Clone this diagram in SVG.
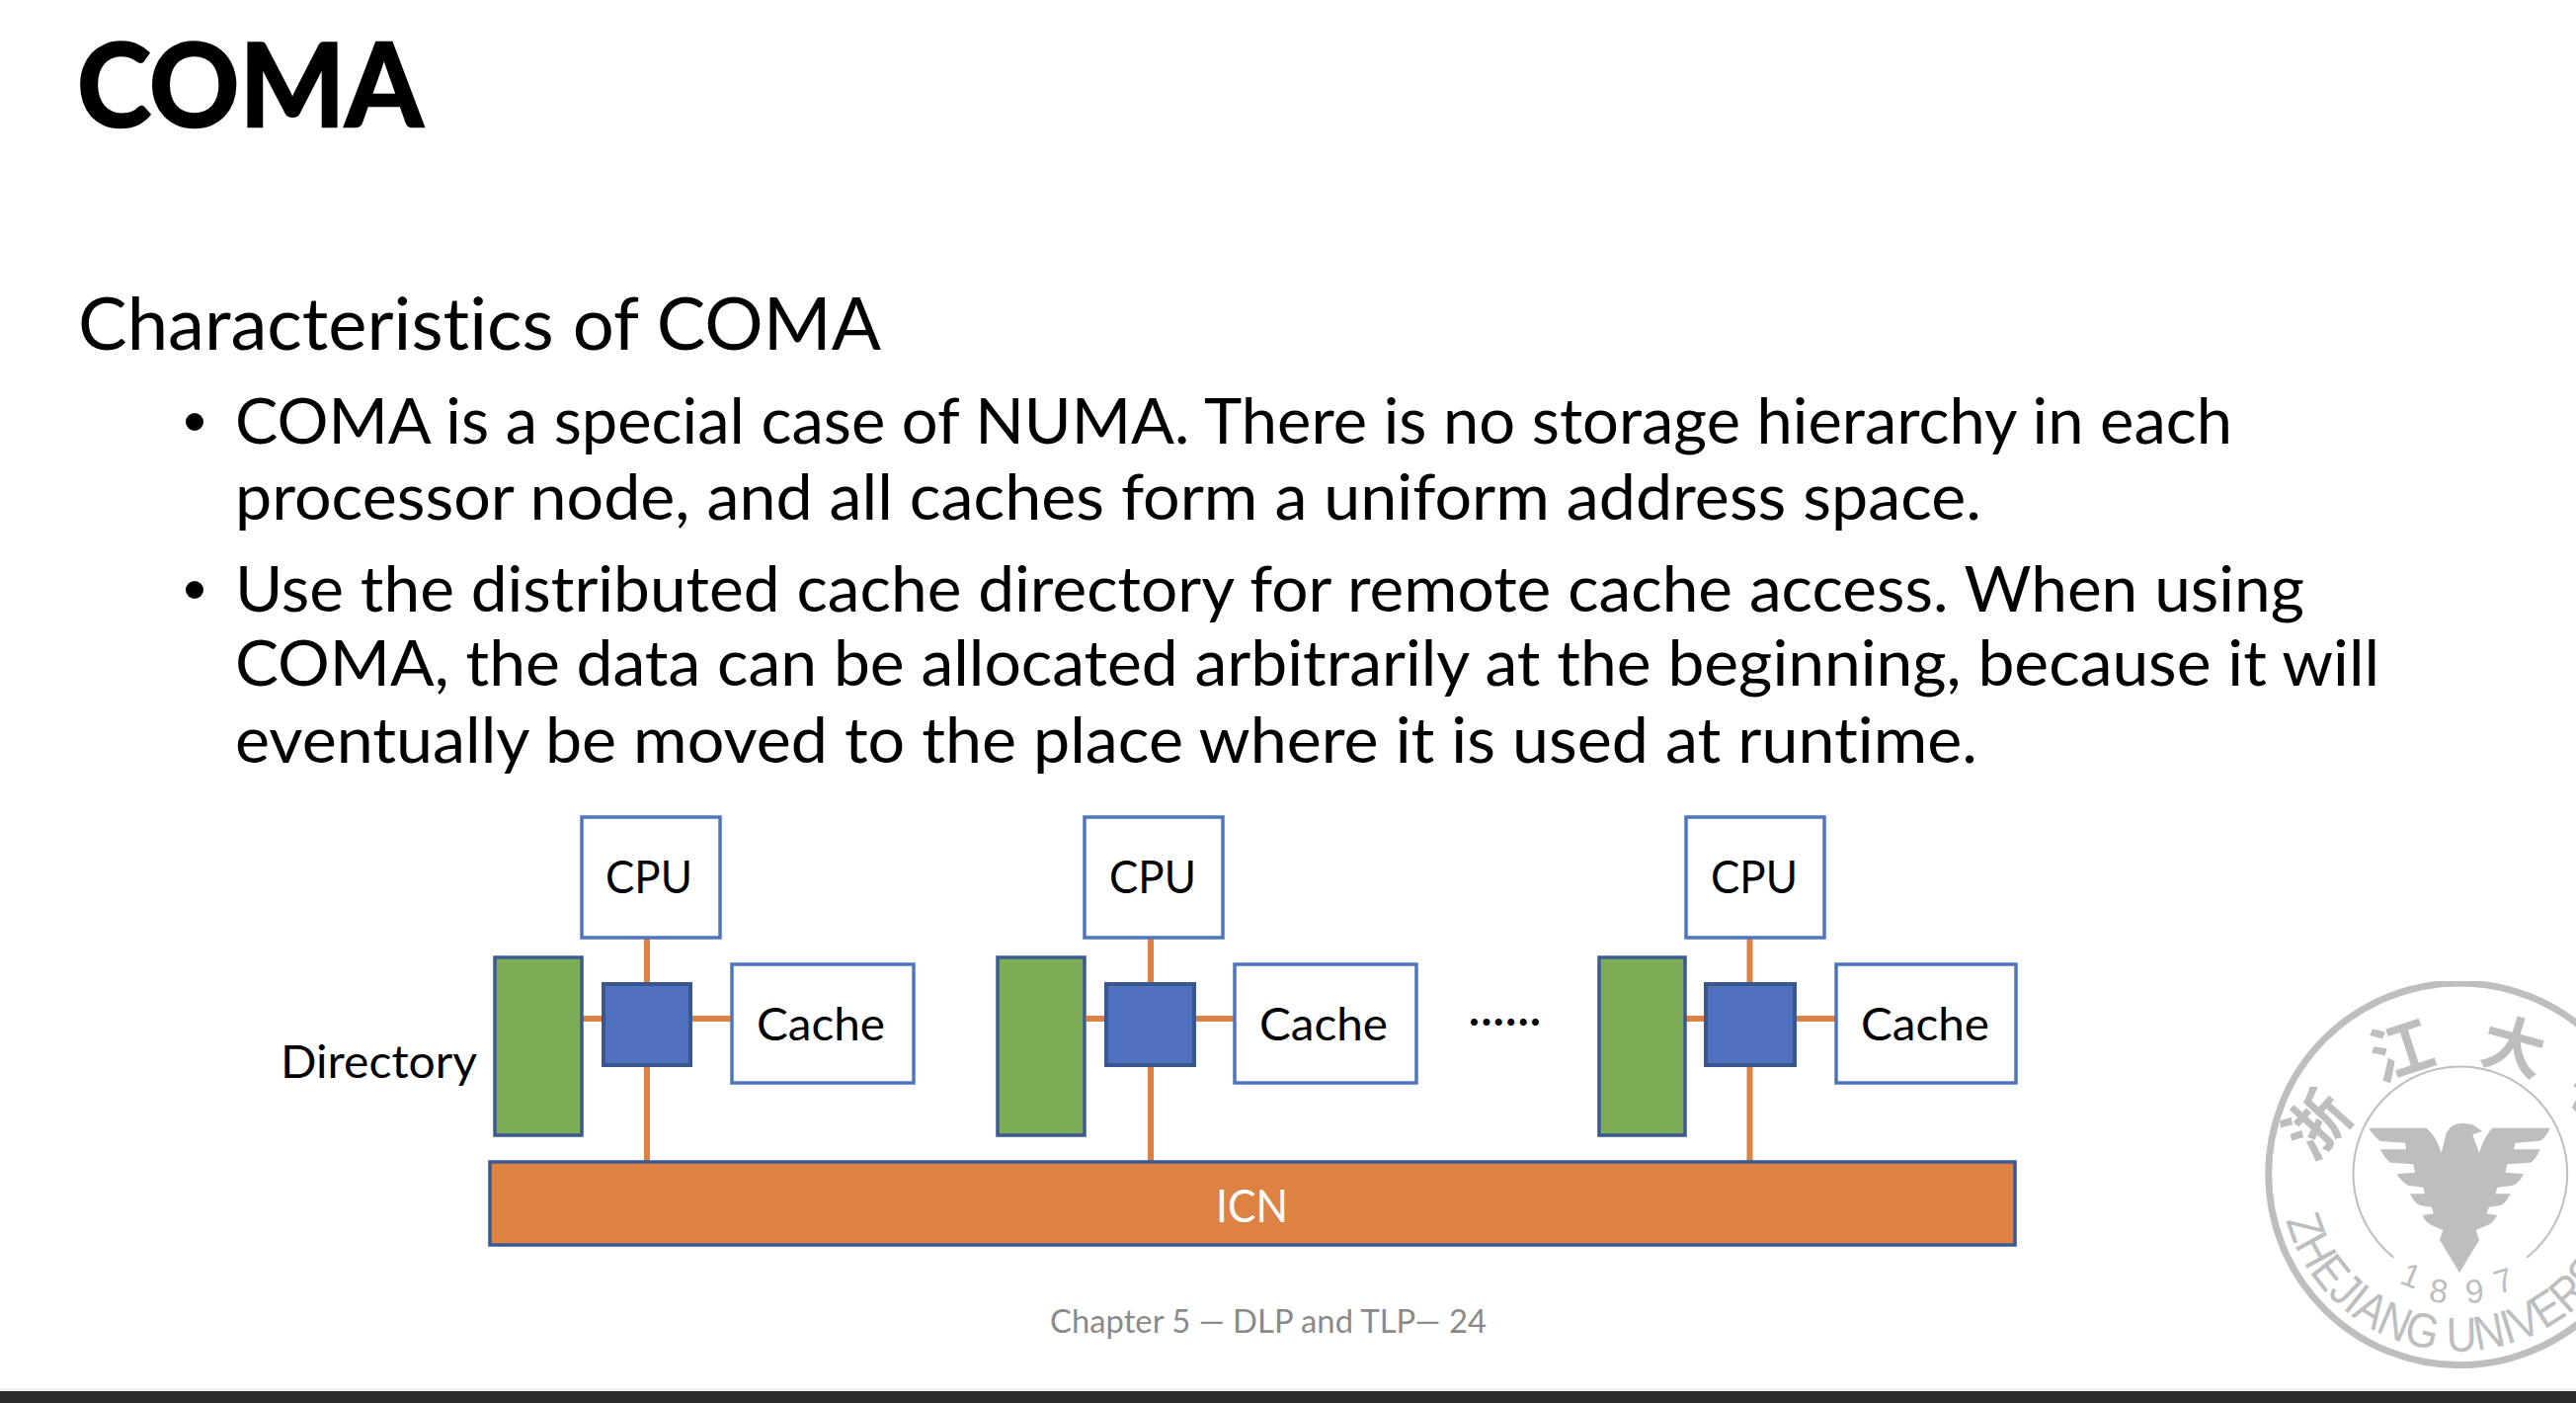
<svg xmlns="http://www.w3.org/2000/svg" xmlns:xlink="http://www.w3.org/1999/xlink" width="2608" height="1420" viewBox="0 0 2608 1420">
<style>
text{font-family:Lato,"Liberation Sans",sans-serif;fill:#000;font-variant-ligatures:none}
.b{font-size:64px}
.n{font-size:46px}
.cpu{fill:#fff;stroke:#4f74c0;stroke-width:3.5}
.dir{fill:#7fac56;stroke:#3a5a94;stroke-width:3.5}
.hub{fill:#4f71be;stroke:#39568f;stroke-width:4}
.c{stroke:#dd8243;fill:none;stroke-width:6}
.s{fill:#bcbec0;font-family:"Liberation Sans",sans-serif}
.z{font-family:"Noto Sans CJK SC","Noto Sans",sans-serif;font-weight:700;font-size:190px;fill:#bcbec0}
</style>
<defs><clipPath id="lc"><rect x="0" y="69" width="1044" height="1177"/></clipPath>
<path id="arc" d="M163 795 A545 545 0 0 0 1228 720"/></defs>
<rect width="2608" height="1420" fill="#fff"/>
<g id="logo" transform="translate(2260 970) scale(.33333)"><g clip-path="url(#lc)">
<circle cx="690" cy="655" r="580" fill="none" stroke="#bcbec0" stroke-width="21"/>
<path d="M490 908A325 325 0 1 1 895 908" fill="none" stroke="#bcbec0" stroke-width="6"/>
<path fill="#bcbec0" d="M415 515L590 515Q620 540 635 590L650 530Q665 500 700 500L730 505L760 525L730 535L750 590Q765 540 790 515L965 515Q950 550 930 555L860 560L855 580L935 580Q920 615 905 620L835 625L830 650L885 655Q870 685 850 690L805 695L800 715L845 715Q830 745 815 750L780 755L772 775L805 780Q790 805 775 810L740 825L750 855L690 955L630 855L640 825L605 810Q585 800 578 780L612 775L605 755L570 750Q550 740 540 715L585 715L580 695L535 690Q510 675 500 655L555 650L550 625L480 620Q460 605 450 580L528 580L525 560L450 555Q425 535 415 515Z"/>
<text class="z" transform="translate(245 620) rotate(-48)">浙</text>
<text class="z" transform="translate(445 375) rotate(-18)">江</text>
<text class="z" transform="translate(745 310) rotate(15)">大</text>
<text class="z" transform="translate(1005 400) rotate(48)">学</text>
<text class="s" font-size="148"><textPath xlink:href="#arc" href="#arc" textLength="1440" lengthAdjust="spacingAndGlyphs">ZHEJIANG UNIVERSITY</textPath></text>
<text class="s" font-size="100" transform="translate(505 985) rotate(22)">1</text>
<text class="s" font-size="100" transform="translate(595 1040) rotate(8)">8</text>
<text class="s" font-size="100" transform="translate(712 1048) rotate(-6)">9</text>
<text class="s" font-size="100" transform="translate(808 1020) rotate(-18)">7</text>
</g></g>
<g id="bar"><rect y="1405" width="2608" height="3" fill="#f0f0f0"/><rect y="1408" width="2608" height="12" fill="#2b2b2b"/></g>
<g id="title"><text x="78" y="128" font-size="116" font-weight="700" stroke="#000" stroke-width="2.500" textLength="350" lengthAdjust="spacingAndGlyphs">COMA</text></g>
<g id="body">
<text x="79" y="354" font-size="74" textLength="813" lengthAdjust="spacingAndGlyphs">Characteristics of COMA</text>
<circle cx="197" cy="427" r="9"/><circle cx="197" cy="597" r="9"/>
<text class="b" x="238" y="449" textLength="2022" lengthAdjust="spacingAndGlyphs">COMA is a special case of NUMA. There is no storage hierarchy in each</text>
<text class="b" x="238" y="526" textLength="1768" lengthAdjust="spacingAndGlyphs">processor node, and all caches form a uniform address space.</text>
<text class="b" x="238" y="619" textLength="2095" lengthAdjust="spacingAndGlyphs">Use the distributed cache directory for remote cache access. When using</text>
<text class="b" x="238" y="694" textLength="2171" lengthAdjust="spacingAndGlyphs">COMA, the data can be allocated arbitrarily at the beginning, because it will</text>
<text class="b" x="238" y="772" textLength="1764" lengthAdjust="spacingAndGlyphs">eventually be moved to the place where it is used at runtime.</text>
</g>
<g id="connectors">
<path class="c" d="M655 949V1175M590 1031H611M699 1031H740"/>
<path class="c" d="M1165 949V1175M1100 1031H1121M1209 1031H1250"/>
<path class="c" d="M1771.500 949V1175M1706 1031H1727M1817 1031H1858"/>
</g>
<g id="icn"><rect x="496" y="1176" width="1544" height="84" fill="#dd8243" stroke="#3a5a94" stroke-width="3.500"/><text x="1231" y="1237" font-size="46" style="fill:#fff" textLength="73" lengthAdjust="spacingAndGlyphs">ICN</text></g>
<g id="directory-label"><text class="n" x="284" y="1091" textLength="199" lengthAdjust="spacingAndGlyphs">Directory</text></g>
<g id="node1"><rect class="dir" x="501" y="969" width="88" height="180"/><rect class="hub" x="611" y="996" width="88" height="82"/>
<rect class="cpu" x="589" y="827" width="140" height="122"/><text class="n" x="613" y="904" textLength="88" lengthAdjust="spacingAndGlyphs">CPU</text>
<rect class="cpu" x="741" y="976" width="184" height="120"/><text class="n" x="766" y="1053" textLength="130" lengthAdjust="spacingAndGlyphs">Cache</text></g>
<g id="node2"><rect class="dir" x="1010" y="969" width="88" height="180"/><rect class="hub" x="1120" y="996" width="89" height="82"/>
<rect class="cpu" x="1098" y="827" width="140" height="122"/><text class="n" x="1123" y="904" textLength="88" lengthAdjust="spacingAndGlyphs">CPU</text>
<rect class="cpu" x="1250" y="976" width="184" height="120"/><text class="n" x="1275" y="1053" textLength="130" lengthAdjust="spacingAndGlyphs">Cache</text></g>
<g id="ellipsis"><text x="1487" y="1038" font-size="46" font-weight="700" textLength="73" lengthAdjust="spacing">......</text></g>
<g id="node3"><rect class="dir" x="1619" y="969" width="87" height="180"/><rect class="hub" x="1727" y="996" width="90" height="82"/>
<rect class="cpu" x="1707" y="827" width="140" height="122"/><text class="n" x="1732" y="904" textLength="88" lengthAdjust="spacingAndGlyphs">CPU</text>
<rect class="cpu" x="1859" y="976" width="182" height="120"/><text class="n" x="1884" y="1053" textLength="130" lengthAdjust="spacingAndGlyphs">Cache</text></g>
<g id="footer"><text x="1063" y="1349" font-size="33" style="fill:#8a8a8a" textLength="442" lengthAdjust="spacingAndGlyphs">Chapter 5 — DLP and TLP— 24</text></g>
</svg>
